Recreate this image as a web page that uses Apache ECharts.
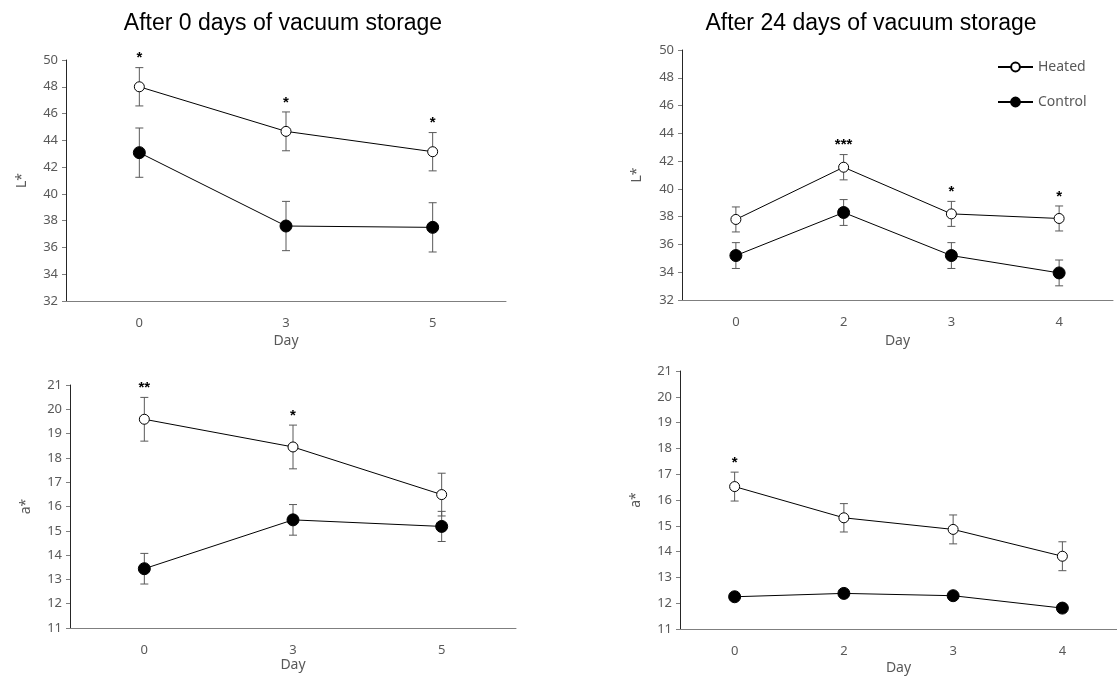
<!DOCTYPE html>
<html>
<head>
<meta charset="utf-8">
<script src="https://cdn.jsdelivr.net/npm/echarts@6/dist/echarts.min.js"></script>
<style>
html, body { margin: 0; padding: 0; background: #fff; }
#main { width: 1117px; height: 679px; }
</style>
</head>
<body>
<div id="main"></div>
<script>
// days sampled
var days0 = ['0', '3', '5'];
var days24 = ['0', '2', '3', '4'];

// L* after 0 days
var L0Heated = [48.0, 44.67, 43.15];
var L0HeatedErr = [1.43, 1.45, 1.43];
var L0Control = [43.08, 37.6, 37.5];
var L0ControlErr = [1.84, 1.84, 1.84];
var L0Sig = ['*', '*', '*'];

// L* after 24 days
var L24Heated = [37.8, 41.56, 38.2, 37.87];
var L24HeatedErr = [0.9, 0.91, 0.9, 0.9];
var L24Control = [35.2, 38.3, 35.2, 33.95];
var L24ControlErr = [0.93, 0.93, 0.93, 0.93];
var L24Sig = ['', '***', '*', '*'];

// a* after 0 days
var a0Heated = [19.59, 18.45, 16.49];
var a0HeatedErr = [0.9, 0.9, 0.88];
var a0Control = [13.44, 15.45, 15.18];
var a0ControlErr = [0.63, 0.63, 0.62];
var a0Sig = ['**', '*', ''];

// a* after 24 days
var a24Heated = [16.52, 15.31, 14.86, 13.82];
var a24HeatedErr = [0.56, 0.55, 0.56, 0.56];
var a24Control = [12.25, 12.38, 12.29, 11.81];
var a24ControlErr = [0.12, 0.12, 0.12, 0.12];
var a24Sig = ['*', '', '', ''];

var labelFont = 'Noto Sans';
var grey = '#595959';

var panels = [
	{ cats: days0, heated: L0Heated, hErr: L0HeatedErr, control: L0Control, cErr: L0ControlErr, sig: L0Sig,
	  name: 'L*', min: 32, max: 50, interval: 2, dayGap: 33, nameGap: 37,
	  grid: { left: 66, top: 60, width: 440, height: 241 } },
	{ cats: days24, heated: L24Heated, hErr: L24HeatedErr, control: L24Control, cErr: L24ControlErr, sig: L24Sig,
	  name: 'L*', min: 32, max: 50, interval: 2, dayGap: 34, nameGap: 38,
	  grid: { left: 682, top: 50, width: 431, height: 250 } },
	{ cats: days0, heated: a0Heated, hErr: a0HeatedErr, control: a0Control, cErr: a0ControlErr, sig: a0Sig,
	  name: 'a*', min: 11, max: 21, interval: 1, dayGap: 28, nameGap: 37,
	  grid: { left: 70, top: 385, width: 446, height: 243 } },
	{ cats: days24, heated: a24Heated, hErr: a24HeatedErr, control: a24Control, cErr: a24ControlErr, sig: a24Sig,
	  name: 'a*', min: 11, max: 21, interval: 1, dayGap: 32, nameGap: 37,
	  grid: { left: 680, top: 371, width: 442, height: 258 } }
];

function errorBars(params, api) {
	var x = api.value(0);
	var v = api.value(1);
	var e = api.value(2);
	var top = api.coord([x, v + e]);
	var bot = api.coord([x, v - e]);
	var w = 4;
	var style = { stroke: grey, lineWidth: 1 };
	return {
		type: 'group',
		children: [
			{ type: 'line', shape: { x1: top[0], y1: top[1], x2: bot[0], y2: bot[1] }, style: style },
			{ type: 'line', shape: { x1: top[0] - w, y1: top[1], x2: top[0] + w, y2: top[1] }, style: style },
			{ type: 'line', shape: { x1: bot[0] - w, y1: bot[1], x2: bot[0] + w, y2: bot[1] }, style: style }
		]
	};
}

var option = {
	animation: false,
	title: [
		{ text: 'After 0 days of vacuum storage', left: 278, top: 7, textAlign: 'center',
		  textStyle: { fontFamily: 'Liberation Sans', fontSize: 23, fontWeight: 'normal', color: '#000' } },
		{ text: 'After 24 days of vacuum storage', left: 866, top: 7, textAlign: 'center',
		  textStyle: { fontFamily: 'Liberation Sans', fontSize: 23, fontWeight: 'normal', color: '#000' } }
	],
	legend: {
		orient: 'vertical',
		left: 992,
		top: 55,
		itemWidth: 35,
		itemHeight: 11,
		itemGap: 21,
		textStyle: { fontFamily: labelFont, fontSize: 14, color: grey },
		data: ['Heated', 'Control']
	},
	grid: [],
	xAxis: [],
	yAxis: [],
	series: []
};

panels.forEach(function (p, i) {
	option.grid.push(p.grid);
	option.xAxis.push({
		type: 'category',
		gridIndex: i,
		data: p.cats,
		name: 'Day',
		nameLocation: 'middle',
		nameGap: p.dayGap,
		nameTextStyle: { fontFamily: labelFont, fontSize: 14, color: grey },
		axisLine: { lineStyle: { color: '#7f7f7f', width: 1 } },
		axisTick: { alignWithLabel: true, length: 4, lineStyle: { color: '#7f7f7f' } },
		axisLabel: { fontFamily: labelFont, fontSize: 13, color: grey, margin: 16 }
	});
	option.yAxis.push({
		type: 'value',
		gridIndex: i,
		min: p.min,
		max: p.max,
		interval: p.interval,
		name: p.name,
		nameLocation: 'middle',
		nameGap: p.nameGap,
		nameTextStyle: { fontFamily: labelFont, fontSize: 14, color: grey },
		splitLine: { show: false },
		axisLine: { show: true, lineStyle: { color: '#262626', width: 1 } },
		axisTick: { show: true, length: 4, lineStyle: { color: '#7f7f7f' } },
		axisLabel: { fontFamily: labelFont, fontSize: 13, color: grey, margin: 8 }
	});

	var hErrData = p.heated.map(function (v, k) { return [k, v, p.hErr[k]]; });
	var cErrData = p.control.map(function (v, k) { return [k, v, p.cErr[k]]; });
	var sigData = p.heated.map(function (v, k) { return [k, v + p.hErr[k]]; });

	option.series.push({
		type: 'custom', xAxisIndex: i, yAxisIndex: i, z: 1,
		renderItem: errorBars, data: cErrData, silent: true
	});
	option.series.push({
		type: 'custom', xAxisIndex: i, yAxisIndex: i, z: 1,
		renderItem: errorBars, data: hErrData, silent: true
	});
	// significance stars above the heated error bars
	option.series.push({
		type: 'custom', xAxisIndex: i, yAxisIndex: i, z: 3, silent: true,
		renderItem: function (params, api) {
			var s = p.sig[params.dataIndex];
			var pt = api.coord([api.value(0), api.value(1)]);
			return {
				type: 'text',
				style: {
					text: s, x: pt[0], y: pt[1] - 2, align: 'center', verticalAlign: 'bottom',
					fontFamily: 'Liberation Sans', fontSize: 15, fontWeight: 'bold', fill: '#000'
				}
			};
		},
		data: sigData
	});
	option.series.push({
		name: 'Heated', type: 'line', xAxisIndex: i, yAxisIndex: i, z: 2,
		data: p.heated,
		symbol: 'circle', symbolSize: 10,
		lineStyle: { color: '#000', width: 1 },
		itemStyle: { color: '#fff', borderColor: '#000', borderWidth: 1 }
	});
	option.series.push({
		name: 'Control', type: 'line', xAxisIndex: i, yAxisIndex: i, z: 2,
		data: p.control,
		symbol: 'circle', symbolSize: 12,
		lineStyle: { color: '#000', width: 1 },
		itemStyle: { color: '#000', borderColor: '#000', borderWidth: 1 }
	});
});

var myChart = echarts.init(document.getElementById('main'));
myChart.setOption(option);
</script>
</body>
</html>
